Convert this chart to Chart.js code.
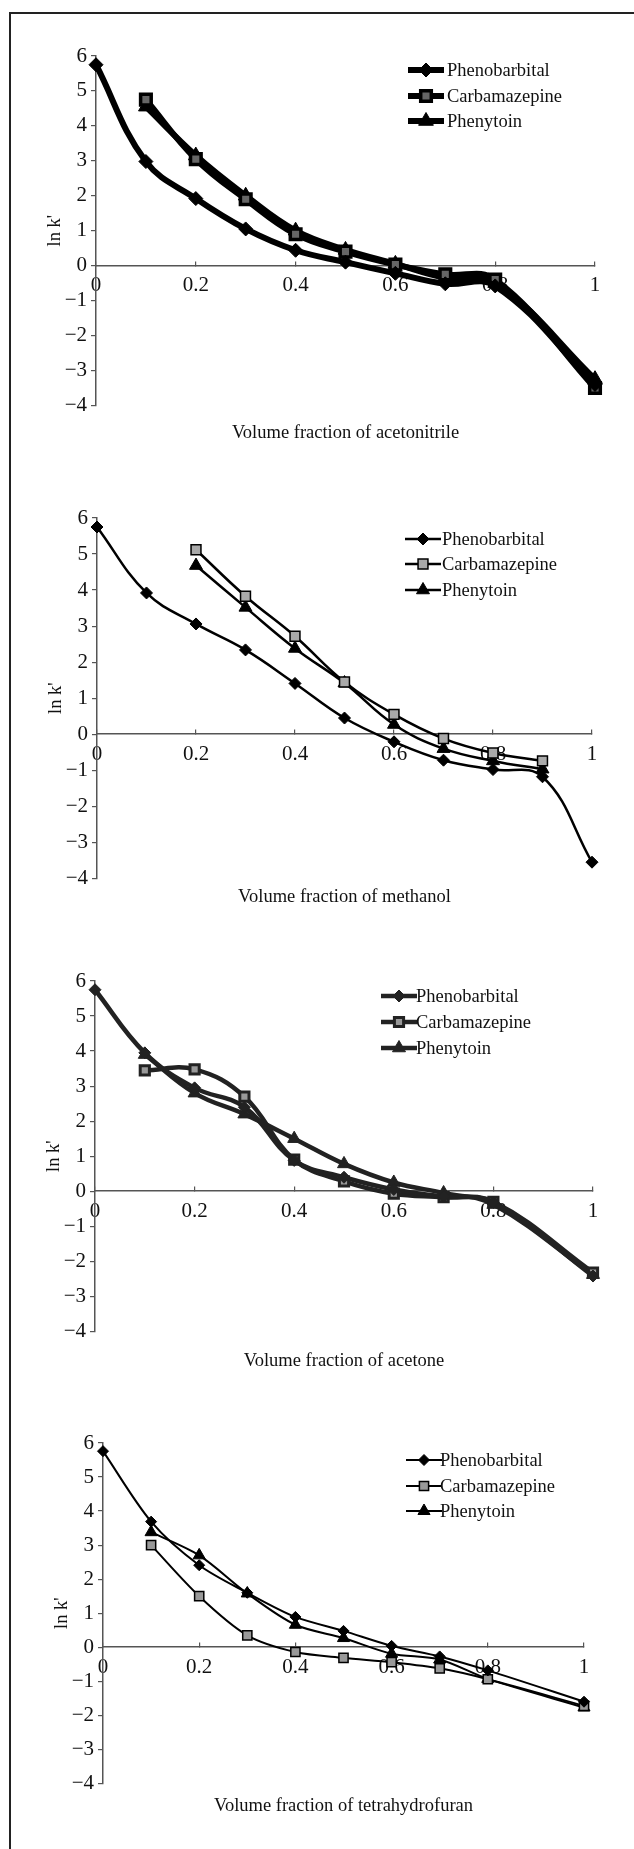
<!DOCTYPE html>
<html>
<head>
<meta charset="utf-8">
<title>ln k' vs volume fraction of organic modifier</title>
<script src="https://cdn.jsdelivr.net/npm/chart.js"></script>
<style>
  html, body { margin: 0; padding: 0; background: #fff; }
  #page { position: relative; width: 634px; height: 1849px; overflow: hidden; background: #fff; }
  #frame { position: absolute; left: 9px; top: 12px; width: 640px; height: 1860px;
           border-top: 2.6px solid #222; border-left: 2.6px solid #222; }
  canvas { position: absolute; left: 0; }
</style>
</head>
<body>
<div id="page">
  <div id="frame"></div>
  <canvas id="c1"></canvas>
  <canvas id="c2"></canvas>
  <canvas id="c3"></canvas>
  <canvas id="c4"></canvas>
</div>
<script>
// --- Dados ---
const xFractions = [0, 0.1, 0.2, 0.3, 0.4, 0.5, 0.6, 0.7, 0.8, 0.9, 1];
const seriesNames = ['Phenobarbital', 'Carbamazepine', 'Phenytoin'];
const xTickLabels = ['0', '0.2', '0.4', '0.6', '0.8', '1'];
const yTickValues = [-4, -3, -2, -1, 0, 1, 2, 3, 4, 5, 6];
const yTickLabels = ['\u22124', '\u22123', '\u22122', '\u22121', '0', '1', '2', '3', '4', '5', '6'];

// acetonitrile
const acnPheno     = [5.75, 2.98, 1.92, 1.05, 0.44, 0.10, -0.22, -0.52, -0.58, null, -3.40];
const acnCarba     = [null, 4.75, 3.05, 1.90, 0.90, 0.40, 0.03, -0.25, -0.40, null, -3.50];
const acnPhenytoin = [null, 4.55, 3.15, 2.00, 1.00, 0.45, 0.05, -0.35, -0.50, null, -3.25];

// methanol
const meohPheno     = [5.75, 3.92, 3.06, 2.34, 1.41, 0.45, -0.21, -0.72, -0.98, -1.18, -3.55];
const meohCarba     = [null, null, 5.12, 3.83, 2.72, 1.45, 0.55, -0.12, -0.52, -0.74, null];
const meohPhenytoin = [null, null, 4.68, 3.52, 2.38, 1.42, 0.27, -0.40, -0.74, -0.97, null];

// acetone
const acePheno     = [5.75, 3.95, 2.95, 2.40, 0.88, 0.40, 0.05, -0.15, -0.32, null, -2.42];
const aceCarba     = [null, 3.45, 3.48, 2.70, 0.90, 0.28, -0.07, -0.17, -0.30, null, -2.32];
const acePhenytoin = [null, 3.90, 2.80, 2.20, 1.50, 0.78, 0.25, -0.05, -0.38, null, -2.38];

// tetrahydrofuran
const thfPheno     = [5.76, 3.69, 2.41, 1.60, 0.89, 0.48, 0.04, -0.27, -0.68, null, -1.60];
const thfCarba     = [null, 3.00, 1.50, 0.35, -0.14, -0.31, -0.44, -0.62, -0.94, null, -1.72];
const thfPhenytoin = [null, 3.38, 2.70, 1.58, 0.66, 0.27, -0.19, -0.36, -0.93, null, -1.77];

// --- Layout dos quatro painéis ---
const FONT = "'Liberation Serif', 'Times New Roman', serif";
const Y_AXIS_W = 60;

const panels = [
  { id: 'c1', title: 'Volume fraction of acetonitrile', series: [acnPheno, acnCarba, acnPhenytoin],
    top: 56, bottom: 406, left: 96, right: 595, titleY: 433,
    legendX: 408, legendRows: [70, 96, 121], textX: 447,
    lineWidth: 6, color: '#000', tension: 0.4,
    radii: [7, 7.5, 8.5], squareFill: '#666', squareBorder: 3.5 },
  { id: 'c2', title: 'Volume fraction of methanol', series: [meohPheno, meohCarba, meohPhenytoin],
    top: 518, bottom: 879, left: 97, right: 592, titleY: 897,
    legendX: 405, legendRows: [539, 564, 590], textX: 442,
    lineWidth: 2.5, color: '#000', tension: 0.4,
    radii: [6, 7, 7.5], squareFill: '#aaa', squareBorder: 1.5 },
  { id: 'c3', title: 'Volume fraction of acetone', series: [acePheno, aceCarba, acePhenytoin],
    top: 981, bottom: 1332, left: 95, right: 593, titleY: 1361,
    legendX: 381, legendRows: [996, 1022, 1048], textX: 416,
    lineWidth: 4.5, color: '#222', tension: 0.4,
    radii: [6, 6.5, 7.5], squareFill: '#999', squareBorder: 3 },
  { id: 'c4', title: 'Volume fraction of tetrahydrofuran', series: [thfPheno, thfCarba, thfPhenytoin],
    top: 1443, bottom: 1784, left: 103, right: 584, titleY: 1806,
    legendX: 406, legendRows: [1460, 1486, 1511], textX: 440,
    lineWidth: 2, color: '#000', tension: 0.3,
    radii: [5.5, 6.5, 7], squareFill: '#999', squareBorder: 1.5 }
];

const pointStyles = ['rectRot', 'rect', 'triangle'];

function toPoints(values) {
  return xFractions.map((x, i) => ({ x: x, y: values[i] })).filter(p => p.y !== null);
}

function drawMarker(ctx, style, x, y, r, fill, stroke, bw) {
  ctx.beginPath();
  if (style === 'rectRot') {
    ctx.moveTo(x, y - r); ctx.lineTo(x + r, y); ctx.lineTo(x, y + r); ctx.lineTo(x - r, y);
    ctx.closePath();
  } else if (style === 'rect') {
    const s = r * Math.SQRT1_2;
    ctx.rect(x - s, y - s, 2 * s, 2 * s);
  } else {
    for (let k = 0; k < 3; k++) {
      const a = k * 2 * Math.PI / 3;
      const px = x + Math.sin(a) * r, py = y - Math.cos(a) * r;
      if (k === 0) ctx.moveTo(px, py); else ctx.lineTo(px, py);
    }
    ctx.closePath();
  }
  ctx.fillStyle = fill;
  ctx.fill();
  if (bw) { ctx.lineWidth = bw; ctx.strokeStyle = stroke; ctx.stroke(); }
}

// legenda dentro da área do gráfico (canto superior direito)
const innerLegend = {
  id: 'innerLegend',
  afterDraw(chart, args, opts) {
    const ctx = chart.ctx;
    ctx.save();
    chart.data.datasets.forEach((ds, i) => {
      const y = opts.rows[i];
      ctx.beginPath();
      ctx.lineWidth = ds.borderWidth;
      ctx.strokeStyle = ds.borderColor;
      ctx.lineCap = 'butt';
      ctx.moveTo(opts.x, y);
      ctx.lineTo(opts.x + 36, y);
      ctx.stroke();
      drawMarker(ctx, ds.pointStyle, opts.x + 18, y, ds.pointRadius,
                 ds.pointBackgroundColor, ds.pointBorderColor, ds.pointBorderWidth);
      ctx.fillStyle = '#111';
      ctx.font = '18.5px ' + FONT;
      ctx.textAlign = 'left';
      ctx.textBaseline = 'middle';
      ctx.fillText(ds.label, opts.textX, y + 1);
    });
    ctx.restore();
  }
};

Chart.defaults.font.family = FONT;
Chart.defaults.color = '#111';

panels.forEach(p => {
  const canvas = document.getElementById(p.id);
  const canvasTop = p.top - 30;
  const canvasH = p.titleY + 20 - canvasTop;
  canvas.width = 634;
  canvas.height = canvasH;
  canvas.style.top = canvasTop + 'px';
  canvas.style.width = '634px';
  canvas.style.height = canvasH + 'px';

  const datasets = p.series.map((values, i) => ({
    label: seriesNames[i],
    data: toPoints(values),
    borderColor: p.color,
    borderWidth: p.lineWidth,
    tension: p.tension,
    fill: false,
    clip: false,
    pointStyle: pointStyles[i],
    pointRadius: p.radii[i],
    pointBackgroundColor: i === 1 ? p.squareFill : p.color,
    pointBorderColor: p.color,
    pointBorderWidth: i === 1 ? p.squareBorder : 1
  }));

  new Chart(canvas, {
    type: 'line',
    data: { datasets: datasets },
    plugins: [innerLegend],
    options: {
      responsive: false,
      animation: false,
      events: [],
      layout: {
        padding: {
          top: 30,
          bottom: 9.2,
          left: p.left - Y_AXIS_W,
          right: 634 - p.right
        }
      },
      plugins: {
        legend: { display: false },
        tooltip: { enabled: false },
        title: {
          display: true,
          position: 'bottom',
          fullSize: false,
          text: p.title,
          color: '#111',
          font: { size: 18.5, weight: 'normal', family: FONT },
          padding: { top: p.titleY - p.bottom - 10.8, bottom: 0 }
        },
        innerLegend: { x: p.legendX, textX: p.textX, rows: p.legendRows.map(r => r - canvasTop) }
      },
      scales: {
        x: {
          type: 'linear',
          min: 0,
          max: 1,
          position: { y: 0 },
          grid: { drawOnChartArea: false, drawTicks: true, tickLength: -5, color: '#555', lineWidth: 1.2 },
          border: { display: true, color: '#555', width: 1.5 },
          ticks: {
            stepSize: 0.2,
            padding: 12.4,
            maxRotation: 0,
            color: '#111',
            font: { size: 21 },
            callback: v => xTickLabels[Math.round(v / 0.2)]
          }
        },
        y: {
          type: 'linear',
          min: -4,
          max: 6,
          afterFit: scale => { scale.width = Y_AXIS_W; },
          grid: { drawOnChartArea: false, drawTicks: true, tickLength: 5, color: '#555', lineWidth: 1.2 },
          border: { display: true, color: '#555', width: 1.5 },
          ticks: {
            stepSize: 1,
            padding: 4,
            color: '#111',
            font: { size: 21 },
            callback: v => yTickLabels[yTickValues.indexOf(v)]
          },
          title: {
            display: true,
            text: "ln k'",
            color: '#111',
            font: { size: 18.5, family: FONT },
            padding: { top: 8, bottom: 0 }
          }
        }
      }
    }
  });
});
</script>
</body>
</html>
